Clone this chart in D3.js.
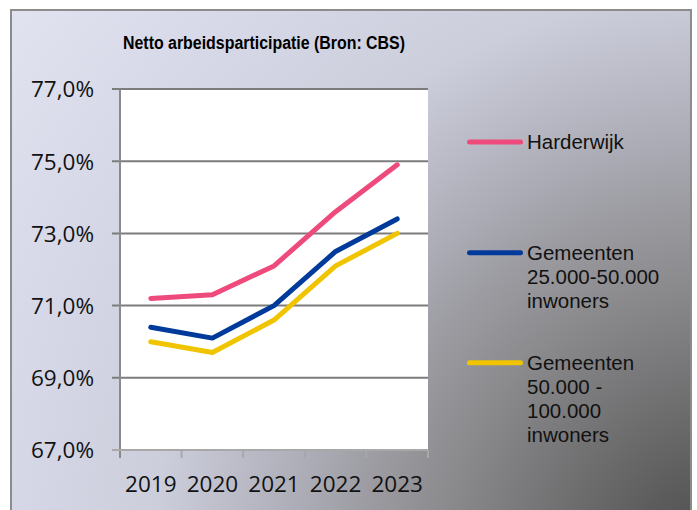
<!DOCTYPE html>
<html>
<head>
<meta charset="utf-8">
<script src="https://cdn.jsdelivr.net/npm/d3@7"></script>
<style>
  html, body { margin: 0; padding: 0; background: #fff; }
  svg { display: block; }
</style>
</head>
<body>
<svg id="chart" width="697" height="510"></svg>
<script>
// data
var years = ['2019', '2020', '2021', '2022', '2023'];
var harderwijk = [71.2, 71.3, 72.1, 73.6, 74.9];
var gem25 = [70.4, 70.1, 71.0, 72.5, 73.4];
var gem50 = [70.0, 69.7, 70.6, 72.1, 73.0];
var yTicks = [67, 69, 71, 73, 75, 77];
var seriesNames = [['Harderwijk'], ['Gemeenten', '25.000-50.000', 'inwoners'], ['Gemeenten', '50.000 -', '100.000', 'inwoners']];
var seriesColors = ['#ef4a7c', '#003a9b', '#f0c400'];
var title = 'Netto arbeidsparticipatie (Bron: CBS)';

var svg = d3.select('#chart');
var plot = {left: 120, right: 428, top: 89, bottom: 450};

// background gradient, dark in the lower right corner
var defs = svg.append('defs');
var grad = defs.append('radialGradient')
	.attr('id', 'bg')
	.attr('gradientUnits', 'userSpaceOnUse')
	.attr('cx', 720).attr('cy', 560).attr('r', 900);
[[0, '#4c4c4c'], [0.094, '#5c5c5c'], [0.31, '#8b8b8e'], [0.4, '#9c9ca2'], [0.46, '#aaaab4'],
 [0.63, '#cdcedc'], [0.78, '#d6d7e6'], [1, '#e2e3f1']].forEach(function (s) {
	grad.append('stop').attr('offset', s[0]).attr('stop-color', s[1]);
});

svg.append('rect').attr('x', 11).attr('y', 10).attr('width', 680).attr('height', 510)
	.style('fill', 'url(#bg)').style('stroke', '#8c8c8c').style('stroke-width', 2);

var x = d3.scaleBand().domain(years).range([plot.left, plot.right]);
var y = d3.scaleLinear().domain([67, 77]).range([plot.bottom, plot.top]);

// plot area
svg.append('rect').attr('x', plot.left).attr('y', plot.top)
	.attr('width', plot.right - plot.left).attr('height', plot.bottom - plot.top)
	.style('fill', '#fff');

var grid = svg.append('g').attr('class', 'grid');
grid.selectAll('line').data(yTicks.filter(function (d) { return d > 67; })).enter().append('line')
	.attr('x1', plot.left - 8).attr('x2', plot.right)
	.attr('y1', function (d) { return y(d); }).attr('y2', function (d) { return y(d); })
	.style('stroke', '#7c7c7c').style('stroke-width', 2);

// y axis
svg.append('line').attr('x1', plot.left).attr('x2', plot.left).attr('y1', plot.top).attr('y2', plot.bottom + 8)
	.style('stroke', '#8a8a8a').style('stroke-width', 2);
svg.append('line').attr('x1', plot.left - 8).attr('x2', plot.left).attr('y1', y(67)).attr('y2', y(67))
	.style('stroke', '#8a8a8a').style('stroke-width', 2);
svg.append('g').selectAll('text').data(yTicks).enter().append('text')
	.attr('x', 94).attr('y', function (d) { return y(d) + 8.3; })
	.attr('text-anchor', 'end')
	.style('font-family', '"Open Sans", sans-serif').style('font-size', '22.5px').style('fill', '#111')
	.text(function (d) { return d3.format('.1f')(d).replace('.', ',') + '%'; });

// x axis
svg.append('line').attr('x1', plot.left - 8).attr('x2', plot.right).attr('y1', plot.bottom).attr('y2', plot.bottom)
	.style('stroke', '#a8a8a8').style('stroke-width', 2);
var bounds = years.map(function (d) { return x(d); }).concat([plot.right]);
svg.append('g').selectAll('line').data(bounds.slice(1)).enter().append('line')
	.attr('x1', function (d) { return d; }).attr('x2', function (d) { return d; })
	.attr('y1', plot.bottom).attr('y2', plot.bottom + 8)
	.style('stroke', '#a8a8a8').style('stroke-width', 2);
svg.append('g').selectAll('text').data(years).enter().append('text')
	.attr('x', function (d) { return x(d) + x.bandwidth() / 2; }).attr('y', 491.5)
	.attr('text-anchor', 'middle')
	.style('font-family', '"Open Sans", sans-serif').style('font-size', '22.5px').style('fill', '#111')
	.text(function (d) { return d; });

// lines
var line = d3.line()
	.x(function (d, i) { return x(years[i]) + x.bandwidth() / 2; })
	.y(function (d) { return y(d); });
[harderwijk, gem25, gem50].forEach(function (s, idx) {
	svg.append('path').datum(s).attr('d', line)
		.style('fill', 'none').style('stroke', seriesColors[idx]).style('stroke-width', 5)
		.style('stroke-linecap', 'round').style('stroke-linejoin', 'round');
});

// title
svg.append('text').attr('x', 264).attr('y', 49).attr('text-anchor', 'middle')
	.attr('textLength', 282).attr('lengthAdjust', 'spacingAndGlyphs')
	.style('font-family', '"Liberation Sans", Arial, sans-serif').style('font-weight', 'bold')
	.style('font-size', '17.5px').style('fill', '#000')
	.text(title);

// legend
var legendY = [142, 252.7, 362.7];
seriesNames.forEach(function (lines, idx) {
	var g = svg.append('g');
	g.append('line').attr('x1', 469.5).attr('x2', 520.5).attr('y1', legendY[idx]).attr('y2', legendY[idx])
		.style('stroke', seriesColors[idx]).style('stroke-width', 5).style('stroke-linecap', 'round');
	g.selectAll('text').data(lines).enter().append('text')
		.attr('x', 527).attr('y', function (d, i) { return legendY[idx] + 6.8 + i * 24; })
		.style('font-family', '"Liberation Sans", Arial, sans-serif').style('font-size', '20.5px').style('fill', '#111')
		.text(function (d) { return d; });
});
</script>
</body>
</html>
